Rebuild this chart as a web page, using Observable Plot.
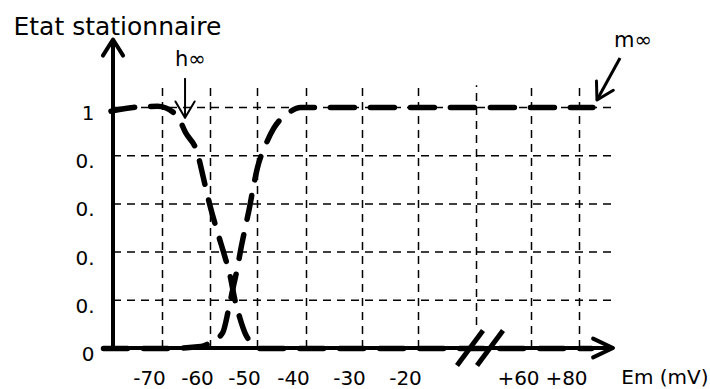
<!DOCTYPE html>
<html>
<head>
<meta charset="utf-8">
<script src="https://cdn.jsdelivr.net/npm/d3@7"></script>
<script src="https://cdn.jsdelivr.net/npm/@observablehq/plot@0.6"></script>
<style>
  html, body { margin: 0; padding: 0; background: #fff; }
  svg { display: block; }
</style>
</head>
<body>
<div id="chart"></div>
<script>
// ---- data ----
const title = "Etat stationnaire";
const xLabel = "Em (mV)";
const seriesNames = ["h∞", "m∞"];

const xTickValues = [-70, -60, -50, -40, -30, -20, 60, 80];
const xTickLabels = ["-70", "-60", "-50", "-40", "-30", "-20", "+60", "+80"];
const xGridValues = [-70, -60, -50, -40, -30, -20, 60, 80];
const xBreakGridValues = [40];

const yTickValues = [0, 0.2, 0.4, 0.6, 0.8, 1];
const yTickLabels = ["0", "0.", "0.", "0.", "0.", "1"];
const yGridValues = [0.2, 0.4, 0.6, 0.8, 1];

// h∞ (inactivation) : falls from 1 to 0
const hX = [-80.5, -76, -71, -67, -65.2, -62.7, -61.5, -60.2, -58.3, -57.2, -55.7, -54.9, -53.8, -52.6, -51.1, -49.4, -40, 0, 85];
const hV = [0.985, 1.0, 1.005, 0.967, 0.896, 0.809, 0.71, 0.6, 0.469, 0.398, 0.29, 0.21, 0.13, 0.062, 0.02, 0, 0, 0, 0];

// m∞ (activation) : rises from 0 to 1
const mX = [-82, -70, -62, -60, -57.4, -56.2, -55.1, -54.3, -53.6, -52.6, -51.7, -50.9, -50, -48.4, -46.7, -43.6, -41.2, -30, 40, 85.5];
const mV = [0, 0, 0.008, 0.025, 0.066, 0.158, 0.261, 0.332, 0.407, 0.502, 0.585, 0.668, 0.751, 0.842, 0.913, 0.979, 1.0, 1.0, 1.0, 1.0];

// ---- tables built from the arrays ----
const curves = [
  ...hX.map((x, i) => ({series: seriesNames[0], x, y: hV[i]})),
  ...mX.map((x, i) => ({series: seriesNames[1], x, y: mV[i]}))
];
const xTicks = xTickValues.map((v, i) => ({value: v, label: xTickLabels[i]}));
const yTicks = yTickValues.map((v, i) => ({value: v, label: yTickLabels[i]}));

const annotations = [
  {label: seriesNames[0], tx: -64.2, ty: 1.174, x1: -65.2, y1: 1.12, x2: -65.2, y2: 0.955, w: 2},
  {label: seriesNames[1], tx: 102, ty: 1.253, x1: 96.9, y1: 1.203, x2: 87.4, y2: 1.029, w: 3}
];

// ---- custom decorations: axes with arrows, axis break, annotation arrows ----
function decorations(index, scales) {
  const {x, y} = scales;
  const g = d3.create("svg:g")
    .attr("fill", "none")
    .attr("stroke", "#000");
  const seg = (x1, y1, x2, y2, w) =>
    g.append("line").attr("x1", x1).attr("y1", y1).attr("x2", x2).attr("y2", y2)
      .attr("stroke-width", w);
  const head = (tx, ty, fx, fy, len, ang, w) => {
    const a = Math.atan2(fy - ty, fx - tx);
    g.append("path")
      .attr("d", `M${tx + len * Math.cos(a + ang)},${ty + len * Math.sin(a + ang)}L${tx},${ty}L${tx + len * Math.cos(a - ang)},${ty + len * Math.sin(a - ang)}`)
      .attr("stroke-width", w)
      .attr("stroke-linejoin", "round")
      .attr("stroke-linecap", "round");
  };
  const x0 = x(-80), y0 = y(0);
  // y axis
  const yTop = y(1.28);
  seg(x0, y0 + 2, x0, yTop + 1, 4);
  head(x0, yTop, x0, y0, 19, 0.56, 4);
  // x axis
  const xEnd = x(94);
  seg(x0 - 2, y0, xEnd - 1, y0, 4);
  head(xEnd, y0, x0, y0, 22, 0.44, 4);
  // axis break "//"
  const xb = x(xBreakGridValues[0]);
  for (const c of [xb - 6, xb + 14]) {
    seg(c - 13, y0 + 17.5, c + 13, y0 - 17.5, 5);
  }
  // annotation arrows
  for (const a of annotations) {
    const fx = x(a.x1), fy = y(a.y1), tx = x(a.x2), ty = y(a.y2);
    seg(fx, fy, tx, ty, a.w);
    head(tx, ty, fx, fy, 19, 0.53, a.w);
  }
  return g.node();
}

const gridStyle = {stroke: "#000", strokeWidth: 1.5, strokeDasharray: "8,6"};

const chart = Plot.plot({
  width: 710,
  height: 389,
  margin: 0,
  style: {background: "#fff", overflow: "visible", fontFamily: "DejaVu Sans", color: "#000"},
  x: {
    type: "linear",
    axis: null,
    domain: [-82, -80, -70, -60, -50, -40, -30, -20, 40, 60, 80, 94],
    range: [103, 113, 162, 210, 257, 306, 362, 418, 476, 531, 579, 613]
  },
  y: {axis: null, domain: [0, 1], range: [348, 107]},
  marks: [
    Plot.ruleY(yGridValues, {x1: -80, x2: 93.5, ...gridStyle}),
    Plot.ruleX(xGridValues, {y1: 0, y2: 1.09, ...gridStyle}),
    Plot.ruleX(xBreakGridValues, {y1: 0.095, y2: 1.09, ...gridStyle}),
    Plot.line(curves, {
      x: "x", y: "y", z: "series",
      curve: "monotone-x",
      stroke: "#000", strokeWidth: 5.5, strokeDasharray: "24,16"
    }),
    decorations,
    Plot.text(xTicks, {x: "value", y: 0, text: "label", dy: 30, dx: -13, fontSize: 20, fill: "#000", lineAnchor: "middle"}),
    Plot.text(yTicks, {x: -80, y: "value", text: "label", textAnchor: "end", dx: -19, dy: 6, fontSize: 20, fill: "#000", lineAnchor: "middle"}),
    Plot.text([xLabel], {text: d => d, frameAnchor: "bottom-right", textAnchor: "end", lineAnchor: "middle", dx: -2, dy: -12, fontSize: 20, fill: "#000"}),
    Plot.text([title], {text: d => d, frameAnchor: "top-left", textAnchor: "start", lineAnchor: "middle", dx: 13, dy: 26, fontSize: 25, fill: "#000"}),
    Plot.text(annotations, {x: "tx", y: "ty", text: "label", lineAnchor: "bottom", fontSize: 21, fill: "#000"})
  ]
});

document.getElementById("chart").appendChild(chart);
</script>
</body>
</html>
